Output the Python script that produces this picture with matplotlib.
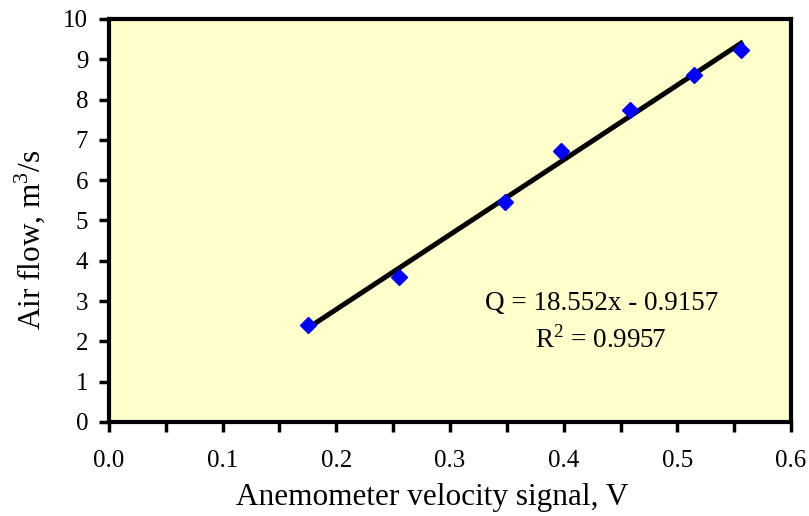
import matplotlib.pyplot as plt
import numpy as np

# data
signal = [0.175, 0.255, 0.348, 0.398, 0.458, 0.515, 0.556]
flow = [2.40, 3.60, 5.45, 6.72, 7.75, 8.60, 9.23]
slope = 18.552
intercept = -0.9157
r2 = 0.9957

plt.rcParams['font.family'] = ['Liberation Serif', 'DejaVu Serif']
plt.rcParams['mathtext.fontset'] = 'custom'
plt.rcParams['mathtext.rm'] = 'Liberation Serif'

fig = plt.figure(figsize=(8.09, 5.16), dpi=100)
ax = fig.add_axes([0.1347, 0.1822, 0.8431, 0.781])
ax.set_facecolor('#FFFFCC')

# trend line over the data range
xl = np.array([min(signal), max(signal)])
ax.plot(xl, slope * xl + intercept, color='black', lw=3.6, zorder=2)
ax.plot(signal, flow, 'D', ms=8.5, color='#0000FF', zorder=3)

ax.set_xlim(0, 0.6)
ax.set_ylim(0, 10)
xt = np.arange(0, 0.601, 0.05)
ax.set_xticks(xt)
ax.set_xticklabels([f'{v:.1f}' if i % 2 == 0 else '' for i, v in enumerate(xt)])
ax.set_yticks(range(0, 11))
ax.tick_params(direction='out', length=7, width=2.5, labelsize=18)
ax.tick_params(axis='x', pad=13)
ax.tick_params(axis='y', pad=8)

for s in ax.spines.values():
    s.set_linewidth(3)

fig.text(432 / 809, 1 - 505 / 516, 'Anemometer velocity signal, V', fontsize=22.5,
         ha='center', va='baseline')
fig.text(30 / 809, 1 - 240 / 516, 'Air flow, m$^\\mathregular{3}$/s', fontsize=22.5,
         ha='center', va='center', rotation=90)

ax.text(0.433, 2.78, f'Q = {slope}x - {abs(intercept)}', fontsize=19.5, ha='center', va='baseline')
ax.text(0.433, 1.84, 'R$^\\mathregular{2}$ = ' + f'{r2}', fontsize=19.5, ha='center', va='baseline')

fig.savefig('out.png', dpi=100)
